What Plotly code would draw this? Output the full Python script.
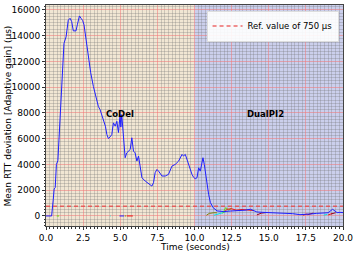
import plotly.graph_objects as go

# Main series (blue): time (s) and mean RTT deviation (µs)
t_main = [0.0, 0.38, 0.49, 0.55, 0.62, 0.7, 0.8, 0.87, 0.94, 1.06, 1.21, 1.35, 1.5, 1.62, 1.73, 1.84,
          2.02, 2.11, 2.25, 2.36, 2.47, 2.56, 2.7, 2.86, 3.01, 3.19, 3.42, 3.53, 3.64, 3.75, 3.87,
          4.0, 4.1, 4.2, 4.32, 4.43, 4.54, 4.66, 4.77, 4.88, 4.99, 5.04, 5.1, 5.21, 5.33, 5.44,
          5.55, 5.67, 5.78, 5.89, 6.0, 6.12, 6.23, 6.34, 6.46, 6.68, 6.9, 7.13, 7.24, 7.35, 7.47,
          7.58, 7.81, 8.03, 8.25, 8.48, 8.7, 8.93, 9.16, 9.26, 9.38, 9.6, 9.72, 9.83, 9.94, 10.05,
          10.17, 10.28, 10.39, 10.51, 10.57, 10.66, 10.8, 10.95, 11.07, 11.25, 11.52, 11.97, 12.4,
          12.87, 13.4, 13.77, 14.2, 14.6, 15.1, 15.6, 16.2, 16.6, 17.1, 17.5, 17.8, 18.2, 18.7,
          19.0, 19.3, 19.45, 19.6, 19.8, 20.0]
y_main = [0, 0, 1300, 2100, 2200, 4000, 4300, 6000, 6900, 10300, 13400, 13900, 15200, 15350, 15090, 14370,
          14370, 14840, 15530, 15350, 15170, 14840, 13680, 12130, 11120, 10060, 9030, 8490, 8260, 7870, 7330,
          6970, 6320, 6010, 6140, 6320, 7230, 6970, 7350, 6480, 7870, 6900, 7870, 6190, 4520, 4900,
          5030, 5160, 6070, 5030, 4900, 4260, 4650, 3870, 2970, 2710, 2500, 2320, 2580, 3360, 3610,
          3480, 3100, 3100, 3230, 3870, 4000, 4260, 4780, 4650, 4780, 4000, 3650, 3230, 3000, 2890,
          2970, 3740, 3480, 4440, 4520, 4000, 2710, 1680, 1040, 650, 390, 340, 380,
          390, 450, 520, 310, 280, 260, 240, 200, 180, 100, 110, 150, 200, 230,
          250, 520, 350, 260, 280, 260]

# Secondary per-flow series (short segments near zero)
t_green = [0.72, 0.88, None, 11.9, 12.0, 12.1, 12.3, 12.5]
y_green = [0, 0, None, 200, 500, 650, 450, 600]
t_red = [5.45, 5.85, None, 12.0, 12.2, 12.5, 12.8, 13.2, 13.6, 14.0, None, 17.3, 17.6, None, 19.0, 19.3]
y_red = [0, 0, None, 300, 520, 560, 450, 500, 450, 420, None, 60, 160, None, 80, 200]
t_cyan = [4.3, 4.35, None, 11.3, 11.6, 11.9, 12.1, None, 18.7, 18.95]
y_cyan = [0, 0, None, 50, 150, 300, 320, None, 60, 120]
t_olive = [10.8, 11.0, 11.3, 11.5, None, 5.3, 5.4]
y_olive = [50, 200, 250, 250, None, 0, 0]
t_maroon = [14.2, 14.5, 14.8, None, 17.6, 18.0, None, 19.2, 19.5]
y_maroon = [80, 220, 260, None, 100, 220, None, 150, 250]
t_blue0 = [4.95, 5.25]
y_blue0 = [0, 0]

ref_value = 750
x_range = [0, 20]
y_range = [-780, 16380]

fig = go.Figure()

# shaded regions
fig.add_shape(type="rect", xref="x", yref="paper", x0=0, x1=10, y0=0, y1=1,
              fillcolor="rgb(241,230,211)", line_width=0, layer="below")
fig.add_shape(type="rect", xref="x", yref="paper", x0=10, x1=20, y0=0, y1=1,
              fillcolor="rgb(203,207,236)", line_width=0, layer="below")

fig.add_trace(go.Scatter(x=x_range, y=[ref_value, ref_value], mode="lines",
                         line=dict(color="rgba(235,70,70,0.8)", width=1.5, dash="4px,3px"),
                         name="Ref. value of 750 µs", showlegend=True))

for tx, ty, col in [(t_olive, y_olive, "#808000"), (t_cyan, y_cyan, "#00e5e5"),
                    (t_green, y_green, "#66dd00"), (t_red, y_red, "#ee1111"),
                    (t_maroon, y_maroon, "#990022"), (t_blue0, y_blue0, "#2222ff")]:
    fig.add_trace(go.Scatter(x=tx, y=ty, mode="lines", line=dict(color=col, width=1),
                             showlegend=False, connectgaps=False))

fig.add_trace(go.Scatter(x=t_main, y=y_main, mode="lines",
                         line=dict(color="#1f1fff", width=1), showlegend=False))

fig.add_annotation(x=5.0, y=7900, text="<b>CoDel</b>", showarrow=False,
                   font=dict(family="DejaVu Sans", size=8.5, color="black"))
fig.add_annotation(x=14.8, y=7900, text="<b>DualPI2</b>", showarrow=False,
                   font=dict(family="DejaVu Sans", size=8.5, color="black"))

# axis titles as paper annotations
fig.add_annotation(xref="paper", yref="paper", x=0.5, y=-0.097, yanchor="middle",
                   text="Time (seconds)", showarrow=False,
                   font=dict(family="DejaVu Sans", size=9, color="black"))
fig.add_annotation(xref="paper", yref="paper", x=-0.128, y=0.5, xanchor="center", yanchor="middle",
                   textangle=-90, text="Mean RTT deviation [Adaptive gain] (µs)", showarrow=False,
                   font=dict(family="DejaVu Sans", size=9, color="black"))

axis_common = dict(showline=True, linecolor="#444", linewidth=1, mirror=True,
                   ticks="outside", ticklen=3, tickcolor="#333", zeroline=False,
                   gridcolor="rgba(240,120,120,0.55)", gridwidth=1, automargin=False,
                   tickfont=dict(family="DejaVu Sans", size=9, color="black"))

fig.update_xaxes(range=x_range, dtick=2.5, tick0=0, tickformat=".1f",
                 minor=dict(dtick=0.25, showgrid=True, gridcolor="rgba(120,120,120,0.3)",
                            gridwidth=0.6, ticks="outside", ticklen=1.5, tickcolor="#333"),
                 **axis_common)
fig.update_yaxes(range=y_range, dtick=2000, tick0=0, tickformat="d",
                 minor=dict(dtick=250, showgrid=True, gridcolor="rgba(120,120,120,0.3)",
                            gridwidth=0.6, ticks="outside", ticklen=1.5, tickcolor="#333"),
                 **axis_common)

fig.update_layout(width=357, height=254, margin=dict(l=46, r=14, t=5, b=28),
                  paper_bgcolor="white", plot_bgcolor="white",
                  font=dict(family="DejaVu Sans", size=9, color="black"),
                  legend=dict(x=0.985, y=0.975, xanchor="right", yanchor="top",
                              bgcolor="rgba(255,255,255,0.9)", bordercolor="#ddd", borderwidth=1,
                              font=dict(family="DejaVu Sans", size=8.5, color="black"),
                              itemwidth=30, tracegroupgap=0))

fig.write_html("out.html", config={"displayModeBar": False},
               post_script="document.body.style.margin='0';document.body.style.padding='0';")
